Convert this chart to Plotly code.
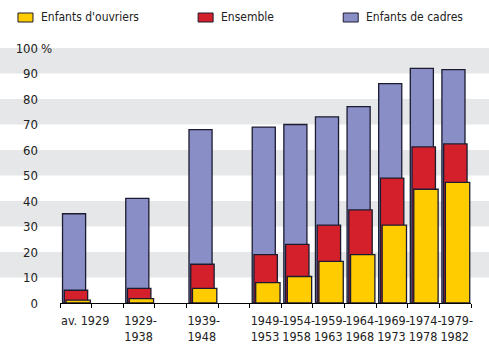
import plotly.graph_objects as go

# ---- data ----
periodes = ["av. 1929", "1929-1938", "1939-1948", "1949-1953", "1954-1958",
            "1959-1963", "1964-1968", "1969-1973", "1974-1978", "1979-1982"]
tick_labels = ["av. 1929", "1929-<br>1938", "1939-<br>1948", "1949-<br>1953", "1954-<br>1958",
               "1959-<br>1963", "1964-<br>1968", "1969-<br>1973", "1974-<br>1978", "1979-<br>1982"]
enfants_cadres = [35, 41, 68, 69, 70, 73, 77, 86, 92, 91.5]
ensemble = [5, 5.7, 15.2, 19, 23, 30.5, 36.5, 49, 61.2, 62.4]
enfants_ouvriers = [1.1, 1.7, 5.7, 8, 10.4, 16.3, 19, 30.5, 44.6, 47.3]
y_ticks = [0, 10, 20, 30, 40, 50, 60, 70, 80, 90, 100]

# ---- time-proportional slot positions (one slot = 5 years) ----
def span(lbl):
    if lbl.startswith("av."):
        return 2
    a, b = lbl.split("-")
    return max(1, round((int(b) - int(a) + 1) / 5))

slots = []
pos = 0
for p in periodes:
    slots.append(pos)
    pos += span(p)
n_slots = pos

FONT = "DejaVu Sans Condensed, Liberation Sans, sans-serif"
BORDER = "#1c1c30"
TXT = "#222222"
C_BLUE, C_RED, C_YEL = "#8a8ec6", "#d4202a", "#ffcc00"

fig = go.Figure()
fig.add_bar(x=slots, y=enfants_cadres, name="Enfants de cadres", offset=0.08, width=0.73,
            marker=dict(color=C_BLUE, line=dict(color=BORDER, width=1.3)))
fig.add_bar(x=slots, y=ensemble, name="Ensemble", offset=0.135, width=0.74,
            marker=dict(color=C_RED, line=dict(color=BORDER, width=1.3)))
fig.add_bar(x=slots, y=enfants_ouvriers, name="Enfants d'ouvriers", offset=0.19, width=0.77,
            marker=dict(color=C_YEL, line=dict(color=BORDER, width=1.3)))

# x ticks at all slot boundaries, labels only at category starts
tickvals = list(range(n_slots + 1))
ticktext = [tick_labels[slots.index(t)] if t in slots else "" for t in tickvals]

shapes = []
for lo in range(10, 100, 20):
    shapes.append(dict(type="rect", xref="paper", yref="paper", x0=-0.2, x1=1.1,
                       y0=lo / 100, y1=(lo + 10) / 100, fillcolor="#e6e7e8",
                       line=dict(width=0), layer="below"))

# manual legend
L, R, T, B = 60, 18.3, 48, 59
pw = 489 - L - R
ph = 362 - T - B
def px_to_paper_x(px):
    return (px - L) / pw
def py_to_paper_y(py):
    return (362 - B - py) / ph

legend_items = [("Enfants d'ouvriers", C_YEL, 18), ("Ensemble", C_RED, 198), ("Enfants de cadres", C_BLUE, 343)]
annotations = []
for name, col, x0 in legend_items:
    shapes.append(dict(type="rect", xref="paper", yref="paper",
                       x0=px_to_paper_x(x0), x1=px_to_paper_x(x0 + 15),
                       y0=py_to_paper_y(22), y1=py_to_paper_y(13),
                       fillcolor=col, line=dict(color=BORDER, width=1)))
    annotations.append(dict(text=name, xref="paper", yref="paper",
                            x=px_to_paper_x(x0 + 21), y=py_to_paper_y(17.5),
                            xanchor="left", yanchor="middle", showarrow=False,
                            font=dict(family=FONT, size=12, color=TXT)))
annotations.append(dict(text="%", xref="paper", yref="paper", x=px_to_paper_x(39), y=1,
                        xanchor="left", yanchor="middle", showarrow=False,
                        font=dict(family=FONT, size=13, color=TXT)))

fig.update_layout(
    width=489, height=362,
    margin=dict(l=L, r=R, t=T, b=B, autoexpand=False),
    barmode="overlay",
    showlegend=False,
    hovermode=False,
    plot_bgcolor="white", paper_bgcolor="white",
    font=dict(family=FONT, size=13, color=TXT),
    shapes=shapes, annotations=annotations,
    xaxis=dict(range=[0, n_slots], tickmode="array", tickvals=tickvals, ticktext=ticktext,
               ticks="outside", ticklen=4, tickcolor="#000", tickwidth=1, tickangle=0,
               ticklabelposition="outside right", automargin=False, ticklabelstandoff=6,
               showline=True, linecolor="#000", linewidth=1, showgrid=False,
               zeroline=False, tickfont=dict(size=12.5), fixedrange=True),
    yaxis=dict(range=[0, 100], tickmode="array", tickvals=y_ticks, automargin=False,
               ticktext=[str(v) for v in y_ticks], showgrid=False, zeroline=False,
               showline=False, ticks="", ticklabelstandoff=21, tickfont=dict(size=13),
               fixedrange=True),
)

fig.write_html("out.html", config={"displayModeBar": False, "staticPlot": True},
               post_script="document.body.style.margin='0';document.body.style.overflow='hidden';")
